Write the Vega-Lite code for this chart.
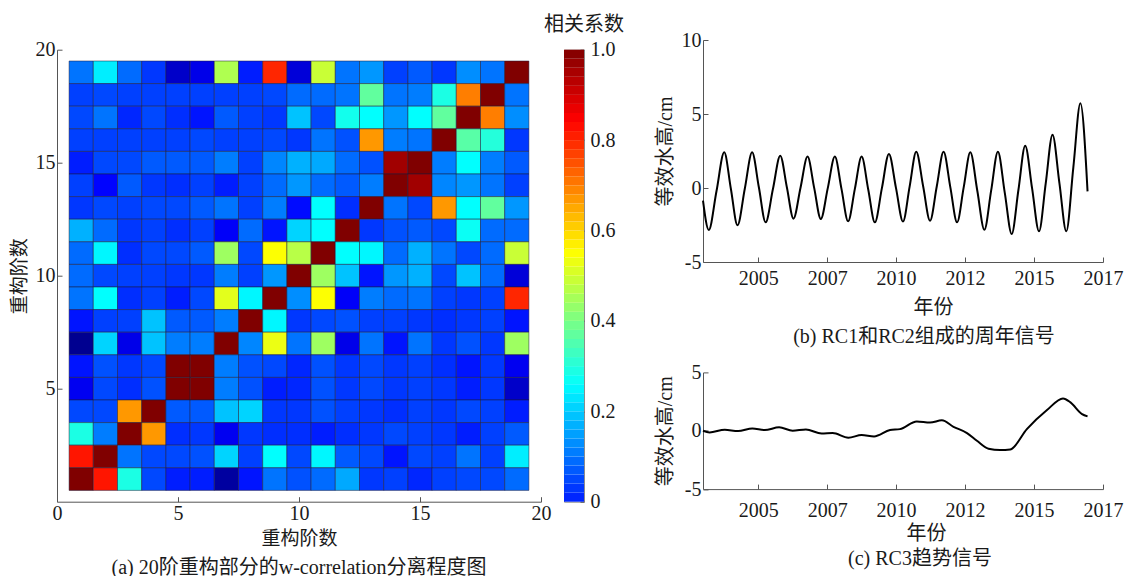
{
  "$schema": "https://vega.github.io/schema/vega-lite/v6.json",
  "background": "white",
  "padding": {"left": 10, "top": 14, "right": 5, "bottom": 5},
  "config": {
    "font": "Liberation Serif, Noto Sans CJK SC",
    "view": {"stroke": null},
    "axis": {
      "labelFont": "Liberation Serif, Noto Sans CJK SC",
      "titleFont": "Liberation Serif, Noto Sans CJK SC",
      "labelFontSize": 20, "titleFontSize": 20, "titleFontWeight": "normal",
      "labelColor": "#1a1a1a", "titleColor": "#1a1a1a",
      "domainColor": "#555555", "tickColor": "#555555",
      "tickSize": -5, "grid": false, "labelFlush": false, "labelOverlap": false
    },
    "axisX": {"labelPadding": 10, "titlePadding": 3},
    "axisY": {"labelPadding": 7, "titlePadding": 6},
    "title": {"font": "Liberation Serif, Noto Sans CJK SC", "fontSize": 20, "fontWeight": "normal", "color": "#1a1a1a"}
  },
  "spacing": 30,
  "hconcat": [
    {
      "bounds": "flush",
      "spacing": 8.7,
      "vconcat": [
        {"width": 1, "height": 1, "data": {"values": []}, "mark": "point"},
        {
          "bounds": "flush",
          "spacing": 23,
          "hconcat": [
            {
              "width": 484, "height": 452,
              "title": {"text": "(a)  20阶重构部分的w-correlation分离程度图", "orient": "bottom", "offset": 9},
              "data": {"values": [
{"col":1,"row":19,"w":0.10},{"col":2,"row":19,"w":0.24},{"col":3,"row":19,"w":0.09},{"col":4,"row":19,"w":0.03},{"col":5,"row":19,"w":-0.10},{"col":6,"row":19,"w":-0.06},{"col":7,"row":19,"w":0.46},{"col":8,"row":19,"w":0.00},{"col":9,"row":19,"w":0.80},{"col":10,"row":19,"w":-0.08},{"col":11,"row":19,"w":0.49},{"col":12,"row":19,"w":0.10},{"col":13,"row":19,"w":0.14},{"col":14,"row":19,"w":0.04},{"col":15,"row":19,"w":0.07},{"col":16,"row":19,"w":0.03},{"col":17,"row":19,"w":0.13},{"col":18,"row":19,"w":0.10},{"col":19,"row":19,"w":1.00},
{"col":1,"row":18,"w":0.04},{"col":2,"row":18,"w":0.05},{"col":3,"row":18,"w":0.04},{"col":4,"row":18,"w":0.04},{"col":5,"row":18,"w":0.04},{"col":6,"row":18,"w":0.04},{"col":7,"row":18,"w":0.04},{"col":8,"row":18,"w":0.04},{"col":9,"row":18,"w":0.05},{"col":10,"row":18,"w":0.09},{"col":11,"row":18,"w":0.09},{"col":12,"row":18,"w":0.10},{"col":13,"row":18,"w":0.37},{"col":14,"row":18,"w":0.10},{"col":15,"row":18,"w":0.11},{"col":16,"row":18,"w":0.29},{"col":17,"row":18,"w":0.70},{"col":18,"row":18,"w":1.00},{"col":19,"row":18,"w":0.10},
{"col":1,"row":17,"w":0.05},{"col":2,"row":17,"w":0.10},{"col":3,"row":17,"w":0.01},{"col":4,"row":17,"w":0.05},{"col":5,"row":17,"w":0.02},{"col":6,"row":17,"w":-0.01},{"col":7,"row":17,"w":0.07},{"col":8,"row":17,"w":0.04},{"col":9,"row":17,"w":0.03},{"col":10,"row":17,"w":0.19},{"col":11,"row":17,"w":0.05},{"col":12,"row":17,"w":0.28},{"col":13,"row":17,"w":0.26},{"col":14,"row":17,"w":0.14},{"col":15,"row":17,"w":0.26},{"col":16,"row":17,"w":0.37},{"col":17,"row":17,"w":1.00},{"col":18,"row":17,"w":0.70},{"col":19,"row":17,"w":0.13},
{"col":1,"row":16,"w":0.04},{"col":2,"row":16,"w":0.04},{"col":3,"row":16,"w":0.04},{"col":4,"row":16,"w":0.04},{"col":5,"row":16,"w":0.04},{"col":6,"row":16,"w":0.05},{"col":7,"row":16,"w":0.04},{"col":8,"row":16,"w":0.04},{"col":9,"row":16,"w":0.05},{"col":10,"row":16,"w":0.03},{"col":11,"row":16,"w":0.10},{"col":12,"row":16,"w":0.06},{"col":13,"row":16,"w":0.67},{"col":14,"row":16,"w":0.11},{"col":15,"row":16,"w":0.10},{"col":16,"row":16,"w":1.00},{"col":17,"row":16,"w":0.36},{"col":18,"row":16,"w":0.30},{"col":19,"row":16,"w":0.03},
{"col":1,"row":15,"w":0.00},{"col":2,"row":15,"w":0.05},{"col":3,"row":15,"w":0.05},{"col":4,"row":15,"w":0.07},{"col":5,"row":15,"w":0.07},{"col":6,"row":15,"w":0.07},{"col":7,"row":15,"w":0.11},{"col":8,"row":15,"w":0.04},{"col":9,"row":15,"w":0.12},{"col":10,"row":15,"w":0.17},{"col":11,"row":15,"w":0.16},{"col":12,"row":15,"w":0.09},{"col":13,"row":15,"w":0.06},{"col":14,"row":15,"w":0.96},{"col":15,"row":15,"w":1.00},{"col":16,"row":15,"w":0.11},{"col":17,"row":15,"w":0.26},{"col":18,"row":15,"w":0.11},{"col":19,"row":15,"w":0.07},
{"col":1,"row":14,"w":0.04},{"col":2,"row":14,"w":-0.03},{"col":3,"row":14,"w":0.07},{"col":4,"row":14,"w":0.03},{"col":5,"row":14,"w":0.02},{"col":6,"row":14,"w":0.04},{"col":7,"row":14,"w":0.00},{"col":8,"row":14,"w":0.04},{"col":9,"row":14,"w":0.09},{"col":10,"row":14,"w":0.14},{"col":11,"row":14,"w":0.09},{"col":12,"row":14,"w":0.07},{"col":13,"row":14,"w":0.11},{"col":14,"row":14,"w":1.00},{"col":15,"row":14,"w":0.96},{"col":16,"row":14,"w":0.12},{"col":17,"row":14,"w":0.14},{"col":18,"row":14,"w":0.10},{"col":19,"row":14,"w":0.04},
{"col":1,"row":13,"w":0.03},{"col":2,"row":13,"w":0.05},{"col":3,"row":13,"w":0.04},{"col":4,"row":13,"w":0.05},{"col":5,"row":13,"w":0.05},{"col":6,"row":13,"w":0.07},{"col":7,"row":13,"w":0.10},{"col":8,"row":13,"w":0.04},{"col":9,"row":13,"w":0.11},{"col":10,"row":13,"w":-0.02},{"col":11,"row":13,"w":0.26},{"col":12,"row":13,"w":0.02},{"col":13,"row":13,"w":1.00},{"col":14,"row":13,"w":0.10},{"col":15,"row":13,"w":0.05},{"col":16,"row":13,"w":0.67},{"col":17,"row":13,"w":0.26},{"col":18,"row":13,"w":0.37},{"col":19,"row":13,"w":0.14},
{"col":1,"row":12,"w":0.17},{"col":2,"row":12,"w":0.09},{"col":3,"row":12,"w":0.03},{"col":4,"row":12,"w":0.04},{"col":5,"row":12,"w":0.02},{"col":6,"row":12,"w":0.04},{"col":7,"row":12,"w":-0.04},{"col":8,"row":12,"w":0.09},{"col":9,"row":12,"w":-0.01},{"col":10,"row":12,"w":0.21},{"col":11,"row":12,"w":0.26},{"col":12,"row":12,"w":1.00},{"col":13,"row":12,"w":0.03},{"col":14,"row":12,"w":0.06},{"col":15,"row":12,"w":0.07},{"col":16,"row":12,"w":0.05},{"col":17,"row":12,"w":0.27},{"col":18,"row":12,"w":0.09},{"col":19,"row":12,"w":0.09},
{"col":1,"row":11,"w":0.09},{"col":2,"row":11,"w":0.25},{"col":3,"row":11,"w":0.02},{"col":4,"row":11,"w":0.05},{"col":5,"row":11,"w":0.05},{"col":6,"row":11,"w":0.07},{"col":7,"row":11,"w":0.44},{"col":8,"row":11,"w":0.05},{"col":9,"row":11,"w":0.55},{"col":10,"row":11,"w":0.47},{"col":11,"row":11,"w":1.00},{"col":12,"row":11,"w":0.26},{"col":13,"row":11,"w":0.25},{"col":14,"row":11,"w":0.09},{"col":15,"row":11,"w":0.17},{"col":16,"row":11,"w":0.10},{"col":17,"row":11,"w":0.05},{"col":18,"row":11,"w":0.09},{"col":19,"row":11,"w":0.49},
{"col":1,"row":10,"w":0.09},{"col":2,"row":10,"w":0.05},{"col":3,"row":10,"w":0.04},{"col":4,"row":10,"w":0.04},{"col":5,"row":10,"w":0.03},{"col":6,"row":10,"w":0.03},{"col":7,"row":10,"w":0.11},{"col":8,"row":10,"w":0.04},{"col":9,"row":10,"w":0.14},{"col":10,"row":10,"w":1.00},{"col":11,"row":10,"w":0.44},{"col":12,"row":10,"w":0.19},{"col":13,"row":10,"w":-0.01},{"col":14,"row":10,"w":0.14},{"col":15,"row":10,"w":0.17},{"col":16,"row":10,"w":0.05},{"col":17,"row":10,"w":0.19},{"col":18,"row":10,"w":0.09},{"col":19,"row":10,"w":-0.08},
{"col":1,"row":9,"w":0.10},{"col":2,"row":9,"w":0.26},{"col":3,"row":9,"w":0.02},{"col":4,"row":9,"w":0.04},{"col":5,"row":9,"w":0.00},{"col":6,"row":9,"w":0.05},{"col":7,"row":9,"w":0.52},{"col":8,"row":9,"w":0.25},{"col":9,"row":9,"w":1.00},{"col":10,"row":9,"w":0.13},{"col":11,"row":9,"w":0.55},{"col":12,"row":9,"w":-0.04},{"col":13,"row":9,"w":0.11},{"col":14,"row":9,"w":0.09},{"col":15,"row":9,"w":0.10},{"col":16,"row":9,"w":0.04},{"col":17,"row":9,"w":0.03},{"col":18,"row":9,"w":0.04},{"col":19,"row":9,"w":0.80},
{"col":1,"row":8,"w":-0.01},{"col":2,"row":8,"w":0.04},{"col":3,"row":8,"w":0.04},{"col":4,"row":8,"w":0.19},{"col":5,"row":8,"w":0.07},{"col":6,"row":8,"w":0.07},{"col":7,"row":8,"w":0.11},{"col":8,"row":8,"w":1.00},{"col":9,"row":8,"w":0.25},{"col":10,"row":8,"w":0.03},{"col":11,"row":8,"w":0.05},{"col":12,"row":8,"w":0.06},{"col":13,"row":8,"w":0.04},{"col":14,"row":8,"w":0.04},{"col":15,"row":8,"w":0.03},{"col":16,"row":8,"w":0.02},{"col":17,"row":8,"w":0.03},{"col":18,"row":8,"w":0.04},{"col":19,"row":8,"w":-0.01},
{"col":1,"row":7,"w":-0.17},{"col":2,"row":7,"w":0.21},{"col":3,"row":7,"w":-0.06},{"col":4,"row":7,"w":0.19},{"col":5,"row":7,"w":0.11},{"col":6,"row":7,"w":0.11},{"col":7,"row":7,"w":1.00},{"col":8,"row":7,"w":0.12},{"col":9,"row":7,"w":0.53},{"col":10,"row":7,"w":0.10},{"col":11,"row":7,"w":0.44},{"col":12,"row":7,"w":-0.06},{"col":13,"row":7,"w":0.10},{"col":14,"row":7,"w":-0.01},{"col":15,"row":7,"w":0.10},{"col":16,"row":7,"w":0.03},{"col":17,"row":7,"w":0.06},{"col":18,"row":7,"w":0.03},{"col":19,"row":7,"w":0.44},
{"col":1,"row":6,"w":-0.01},{"col":2,"row":6,"w":0.06},{"col":3,"row":6,"w":0.03},{"col":4,"row":6,"w":0.05},{"col":5,"row":6,"w":1.00},{"col":6,"row":6,"w":1.00},{"col":7,"row":6,"w":0.11},{"col":8,"row":6,"w":0.06},{"col":9,"row":6,"w":0.05},{"col":10,"row":6,"w":0.01},{"col":11,"row":6,"w":0.06},{"col":12,"row":6,"w":0.03},{"col":13,"row":6,"w":0.05},{"col":14,"row":6,"w":0.03},{"col":15,"row":6,"w":0.04},{"col":16,"row":6,"w":0.02},{"col":17,"row":6,"w":-0.01},{"col":18,"row":6,"w":0.03},{"col":19,"row":6,"w":-0.05},
{"col":1,"row":5,"w":-0.05},{"col":2,"row":5,"w":0.05},{"col":3,"row":5,"w":0.02},{"col":4,"row":5,"w":0.06},{"col":5,"row":5,"w":1.00},{"col":6,"row":5,"w":1.00},{"col":7,"row":5,"w":0.11},{"col":8,"row":5,"w":0.06},{"col":9,"row":5,"w":0.00},{"col":10,"row":5,"w":0.01},{"col":11,"row":5,"w":0.06},{"col":12,"row":5,"w":0.03},{"col":13,"row":5,"w":0.05},{"col":14,"row":5,"w":0.03},{"col":15,"row":5,"w":0.04},{"col":16,"row":5,"w":0.03},{"col":17,"row":5,"w":0.00},{"col":18,"row":5,"w":0.03},{"col":19,"row":5,"w":-0.10},
{"col":1,"row":4,"w":0.05},{"col":2,"row":4,"w":0.05},{"col":3,"row":4,"w":0.67},{"col":4,"row":4,"w":1.00},{"col":5,"row":4,"w":0.07},{"col":6,"row":4,"w":0.07},{"col":7,"row":4,"w":0.19},{"col":8,"row":4,"w":0.21},{"col":9,"row":4,"w":0.03},{"col":10,"row":4,"w":0.03},{"col":11,"row":4,"w":0.06},{"col":12,"row":4,"w":0.04},{"col":13,"row":4,"w":0.03},{"col":14,"row":4,"w":0.02},{"col":15,"row":4,"w":0.04},{"col":16,"row":4,"w":0.03},{"col":17,"row":4,"w":0.05},{"col":18,"row":4,"w":0.04},{"col":19,"row":4,"w":0.00},
{"col":1,"row":3,"w":0.29},{"col":2,"row":3,"w":0.11},{"col":3,"row":3,"w":1.00},{"col":4,"row":3,"w":0.67},{"col":5,"row":3,"w":0.02},{"col":6,"row":3,"w":0.03},{"col":7,"row":3,"w":-0.05},{"col":8,"row":3,"w":0.03},{"col":9,"row":3,"w":0.02},{"col":10,"row":3,"w":0.02},{"col":11,"row":3,"w":0.00},{"col":12,"row":3,"w":0.02},{"col":13,"row":3,"w":0.03},{"col":14,"row":3,"w":0.05},{"col":15,"row":3,"w":0.04},{"col":16,"row":3,"w":0.03},{"col":17,"row":3,"w":0.00},{"col":18,"row":3,"w":0.04},{"col":19,"row":3,"w":0.07},
{"col":1,"row":2,"w":0.82},{"col":2,"row":2,"w":1.00},{"col":3,"row":2,"w":0.10},{"col":4,"row":2,"w":0.05},{"col":5,"row":2,"w":0.05},{"col":6,"row":2,"w":0.06},{"col":7,"row":2,"w":0.21},{"col":8,"row":2,"w":0.04},{"col":9,"row":2,"w":0.26},{"col":10,"row":2,"w":0.05},{"col":11,"row":2,"w":0.25},{"col":12,"row":2,"w":0.07},{"col":13,"row":2,"w":0.05},{"col":14,"row":2,"w":-0.01},{"col":15,"row":2,"w":0.05},{"col":16,"row":2,"w":0.04},{"col":17,"row":2,"w":0.10},{"col":18,"row":2,"w":0.04},{"col":19,"row":2,"w":0.24},
{"col":1,"row":1,"w":1.00},{"col":2,"row":1,"w":0.82},{"col":3,"row":1,"w":0.29},{"col":4,"row":1,"w":0.05},{"col":5,"row":1,"w":0.00},{"col":6,"row":1,"w":0.00},{"col":7,"row":1,"w":-0.15},{"col":8,"row":1,"w":-0.01},{"col":9,"row":1,"w":0.10},{"col":10,"row":1,"w":0.06},{"col":11,"row":1,"w":0.09},{"col":12,"row":1,"w":0.16},{"col":13,"row":1,"w":0.03},{"col":14,"row":1,"w":0.04},{"col":15,"row":1,"w":0.01},{"col":16,"row":1,"w":0.04},{"col":17,"row":1,"w":0.05},{"col":18,"row":1,"w":0.05},{"col":19,"row":1,"w":0.09}
              ]},
              "mark": {"type": "rect", "width": 24.2, "height": 22.6, "stroke": "#1b1b3a", "strokeWidth": 0.5},
              "encoding": {
                "x": {"field": "col", "type": "quantitative", "scale": {"domain": [0, 20], "nice": false, "zero": false},
                      "axis": {"values": [0, 5, 10, 15, 20], "title": "重构阶数", "titleFontSize": 19, "labelPadding": 7, "titlePadding": 6}},
                "y": {"field": "row", "type": "quantitative", "scale": {"domain": [0, 20], "nice": false, "zero": false},
                      "axis": {"values": [5, 10, 15, 20], "title": "重构阶数", "titleFontSize": 19}},
                "color": {"field": "w", "type": "quantitative",
                          "scale": {"domain": [-0.17, -0.033, 0.259, 0.552, 0.844, 1.0], "range": ["#000090", "#0000ff", "#00ffff", "#ffff00", "#ff0000", "#800000"], "interpolate": "rgb"},
                          "legend": null}
              }
            },
            {
              "width": 20, "height": 452,
              "title": {"text": "相关系数", "orient": "top", "offset": 5, "dx": 10},
              "view": {"stroke": "#8c8c8c", "strokeWidth": 1},
              "data": {"values": [
{"lo":0.00,"hi":0.02,"m":0.01},{"lo":0.02,"hi":0.04,"m":0.03},{"lo":0.04,"hi":0.06,"m":0.05},{"lo":0.06,"hi":0.08,"m":0.07},{"lo":0.08,"hi":0.10,"m":0.09},
{"lo":0.10,"hi":0.12,"m":0.11},{"lo":0.12,"hi":0.14,"m":0.13},{"lo":0.14,"hi":0.16,"m":0.15},{"lo":0.16,"hi":0.18,"m":0.17},{"lo":0.18,"hi":0.20,"m":0.19},
{"lo":0.20,"hi":0.22,"m":0.21},{"lo":0.22,"hi":0.24,"m":0.23},{"lo":0.24,"hi":0.26,"m":0.25},{"lo":0.26,"hi":0.28,"m":0.27},{"lo":0.28,"hi":0.30,"m":0.29},
{"lo":0.30,"hi":0.32,"m":0.31},{"lo":0.32,"hi":0.34,"m":0.33},{"lo":0.34,"hi":0.36,"m":0.35},{"lo":0.36,"hi":0.38,"m":0.37},{"lo":0.38,"hi":0.40,"m":0.39},
{"lo":0.40,"hi":0.42,"m":0.41},{"lo":0.42,"hi":0.44,"m":0.43},{"lo":0.44,"hi":0.46,"m":0.45},{"lo":0.46,"hi":0.48,"m":0.47},{"lo":0.48,"hi":0.50,"m":0.49},
{"lo":0.50,"hi":0.52,"m":0.51},{"lo":0.52,"hi":0.54,"m":0.53},{"lo":0.54,"hi":0.56,"m":0.55},{"lo":0.56,"hi":0.58,"m":0.57},{"lo":0.58,"hi":0.60,"m":0.59},
{"lo":0.60,"hi":0.62,"m":0.61},{"lo":0.62,"hi":0.64,"m":0.63},{"lo":0.64,"hi":0.66,"m":0.65},{"lo":0.66,"hi":0.68,"m":0.67},{"lo":0.68,"hi":0.70,"m":0.69},
{"lo":0.70,"hi":0.72,"m":0.71},{"lo":0.72,"hi":0.74,"m":0.73},{"lo":0.74,"hi":0.76,"m":0.75},{"lo":0.76,"hi":0.78,"m":0.77},{"lo":0.78,"hi":0.80,"m":0.79},
{"lo":0.80,"hi":0.82,"m":0.81},{"lo":0.82,"hi":0.84,"m":0.83},{"lo":0.84,"hi":0.86,"m":0.85},{"lo":0.86,"hi":0.88,"m":0.87},{"lo":0.88,"hi":0.90,"m":0.89},
{"lo":0.90,"hi":0.92,"m":0.91},{"lo":0.92,"hi":0.94,"m":0.93},{"lo":0.94,"hi":0.96,"m":0.95},{"lo":0.96,"hi":0.98,"m":0.97},{"lo":0.98,"hi":1.00,"m":0.99}
              ]},
              "mark": {"type": "rect"},
              "encoding": {
                "y": {"field": "lo", "type": "quantitative", "scale": {"domain": [0, 1], "nice": false, "zero": false},
                      "axis": {"orient": "right", "values": [0, 0.2, 0.4, 0.6, 0.8, 1], "title": null, "domain": false, "tickSize": -4, "labelPadding": 10,
                               "labelExpr": "datum.value == 0 ? '0' : format(datum.value, '.1f')"}},
                "y2": {"field": "hi"},
                "color": {"field": "m", "type": "quantitative",
                          "scale": {"domain": [-0.17, -0.033, 0.259, 0.552, 0.844, 1.0], "range": ["#000090", "#0000ff", "#00ffff", "#ffff00", "#ff0000", "#800000"], "interpolate": "rgb"},
                          "legend": null}
              }
            }
          ]
        }
      ]
    },
    {
      "bounds": "flush",
      "spacing": 110.4,
      "vconcat": [
        {
          "width": 400, "height": 222,
          "title": {"text": "(b)  RC1和RC2组成的周年信号", "orient": "bottom", "offset": 10, "dx": 21},
          "data": {"values": [
{"year":2003.00,"cm":-0.86},{"year":2003.21,"cm":-2.84},{"year":2003.49,"cm":-0.20},{"year":2003.77,"cm":2.41},
{"year":2004.01,"cm":-0.05},{"year":2004.25,"cm":-2.52},{"year":2004.515,"cm":-0.05},{"year":2004.78,"cm":2.41},
{"year":2005.025,"cm":0.05},{"year":2005.27,"cm":-2.32},{"year":2005.535,"cm":-0.07},{"year":2005.80,"cm":2.18},
{"year":2006.04,"cm":0.05},{"year":2006.28,"cm":-2.07},{"year":2006.535,"cm":0.02},{"year":2006.79,"cm":2.12},
{"year":2007.03,"cm":0.01},{"year":2007.27,"cm":-2.09},{"year":2007.525,"cm":0.01},{"year":2007.78,"cm":2.12},
{"year":2008.02,"cm":-0.06},{"year":2008.26,"cm":-2.25},{"year":2008.505,"cm":-0.06},{"year":2008.75,"cm":2.12},
{"year":2008.99,"cm":-0.10},{"year":2009.23,"cm":-2.32},{"year":2009.485,"cm":-0.01},{"year":2009.74,"cm":2.30},
{"year":2009.995,"cm":0.01},{"year":2010.25,"cm":-2.27},{"year":2010.49,"cm":0.09},{"year":2010.73,"cm":2.45},
{"year":2010.98,"cm":0.12},{"year":2011.23,"cm":-2.21},{"year":2011.475,"cm":0.12},{"year":2011.72,"cm":2.45},
{"year":2011.965,"cm":0.06},{"year":2012.21,"cm":-2.32},{"year":2012.45,"cm":0.04},{"year":2012.69,"cm":2.41},
{"year":2012.945,"cm":-0.20},{"year":2013.20,"cm":-2.82},{"year":2013.445,"cm":-0.18},{"year":2013.69,"cm":2.45},
{"year":2013.94,"cm":-0.33},{"year":2014.19,"cm":-3.11},{"year":2014.435,"cm":-0.12},{"year":2014.68,"cm":2.86},
{"year":2014.93,"cm":-0.03},{"year":2015.18,"cm":-2.93},{"year":2015.425,"cm":0.33},{"year":2015.67,"cm":3.60},
{"year":2015.92,"cm":0.33},{"year":2016.17,"cm":-2.93},{"year":2016.425,"cm":1.40},{"year":2016.68,"cm":5.72},
{"year":2016.94,"cm":-0.23}
          ]},
          "mark": {"type": "line", "color": "#000000", "strokeWidth": 2, "interpolate": "monotone"},
          "encoding": {
            "x": {"field": "year", "type": "quantitative", "scale": {"domain": [2003, 2017.5], "nice": false, "zero": false},
                  "axis": {"values": [2005, 2007.5, 2010, 2012.5, 2015, 2017.5], "labelExpr": "'' + floor(datum.value)", "title": "年份", "titleX": 230, "labelPadding": 11, "titlePadding": 9}},
            "y": {"field": "cm", "type": "quantitative", "scale": {"domain": [-5, 10], "nice": false, "zero": false},
                  "axis": {"values": [-5, 0, 5, 10], "labelExpr": "datum.value < 0 ? '-' + abs(datum.value) : '' + datum.value", "title": "等效水高/cm"}}
          }
        },
        {
          "width": 400, "height": 116.7,
          "title": {"text": "(c)  RC3趋势信号", "orient": "bottom", "offset": 6, "dx": 17},
          "data": {"values": [
{"year":2003.00,"cm":0.00},{"year":2003.24,"cm":-0.14},{"year":2003.79,"cm":0.09},{"year":2004.27,"cm":-0.03},
{"year":2004.79,"cm":0.20},{"year":2005.24,"cm":0.06},{"year":2005.76,"cm":0.29},{"year":2006.25,"cm":0.00},
{"year":2006.73,"cm":0.11},{"year":2007.30,"cm":-0.23},{"year":2007.70,"cm":-0.20},{"year":2008.27,"cm":-0.60},
{"year":2008.75,"cm":-0.37},{"year":2009.20,"cm":-0.49},{"year":2009.78,"cm":0.06},{"year":2010.14,"cm":0.14},
{"year":2010.75,"cm":0.80},{"year":2011.23,"cm":0.71},{"year":2011.66,"cm":0.89},{"year":2012.08,"cm":0.34},
{"year":2012.57,"cm":-0.20},{"year":2012.93,"cm":-0.86},{"year":2013.35,"cm":-1.54},{"year":2013.77,"cm":-1.66},
{"year":2014.14,"cm":-1.60},{"year":2014.74,"cm":0.14},{"year":2015.47,"cm":1.77},{"year":2016.05,"cm":2.77},
{"year":2016.32,"cm":2.43},{"year":2016.74,"cm":1.43},{"year":2016.94,"cm":1.23}
          ]},
          "mark": {"type": "line", "color": "#000000", "strokeWidth": 2, "interpolate": "monotone"},
          "encoding": {
            "x": {"field": "year", "type": "quantitative", "scale": {"domain": [2003, 2017.5], "nice": false, "zero": false},
                  "axis": {"values": [2005, 2007.5, 2010, 2012.5, 2015, 2017.5], "labelExpr": "'' + floor(datum.value)", "title": "年份", "titleX": 223, "labelPadding": 16}},
            "y": {"field": "cm", "type": "quantitative", "scale": {"domain": [-5, 5], "nice": false, "zero": false},
                  "axis": {"values": [-5, 0, 5], "labelExpr": "datum.value < 0 ? '-' + abs(datum.value) : '' + datum.value", "title": "等效水高/cm", "titlePadding": 9}}
          }
        }
      ]
    }
  ]
}
